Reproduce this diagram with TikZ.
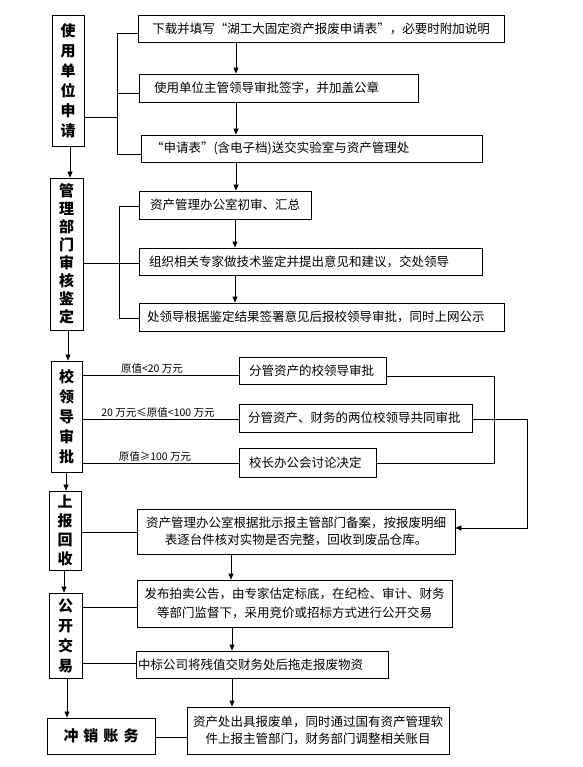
\documentclass[tikz,border=0pt]{standalone}
\usepackage{fontspec}
\setmainfont{Noto Sans CJK SC}
\usetikzlibrary{arrows.meta}
\begin{document}
\begin{tikzpicture}[x=1pt,y=-1pt,
  box/.style={draw, line width=0.8pt, inner ysep=0pt, inner xsep=10pt, font=\fontsize{12.5}{18}\selectfont},
  lbox/.style={draw, line width=0.9pt, inner sep=0pt, align=center},
  lfont/.style={font=\fontsize{15}{#1}\selectfont\bfseries},
  ln/.style={line width=0.8pt},
  arr/.style={line width=0.8pt, -{Triangle[length=6pt,width=5pt]}},
  lab/.style={font=\fontsize{10.5}{12}\selectfont, inner sep=1pt, anchor=south}]
\useasboundingbox (0,0) rectangle (582,767);

% left column
\node[lbox, lfont=20, minimum width=32, minimum height=131] (L1) at (68,80.5) {使\\用\\单\\位\\申\\请};
\node[lbox, lfont=18, minimum width=33, minimum height=152] (L2) at (66.5,254) {管\\理\\部\\门\\审\\核\\鉴\\定};
\node[lbox, lfont=20, minimum width=31, minimum height=111] (L3) at (66.5,416.5) {校\\领\\导\\审\\批};
\node[lbox, lfont=19, minimum width=32, minimum height=79] (L4) at (65,530.5) {上\\报\\回\\收};
\node[lbox, lfont=20, minimum width=33, minimum height=85] (L5) at (65.5,635.5) {公\\开\\交\\易};
\node[lbox, lfont=20, minimum width=108, minimum height=36] (L6) at (101,736) {冲\hspace{5pt}销\hspace{5pt}账\hspace{5pt}务};

% right boxes
\node[box, text width=346, align=center, minimum height=27] (R1) at (321,28.5) {下载并填写“湖工大固定资产报废申请表”，必要时附加说明};
\node[box, inner xsep=15pt, text width=249, align=left, minimum height=28] (R2) at (278.5,88) {使用单位主管领导审批签字，并加盖公章};
\node[box, text width=321, align=left, minimum height=27] (R3) at (311.5,148.5) {“申请表”(含电子档)送交实验室与资产管理处};
\node[box, text width=152, align=center, minimum height=28] (R4) at (225,205) {资产管理办公室初审、汇总};
\node[box, text width=323, align=left, minimum height=27] (R5) at (310.5,261.5) {组织相关专家做技术鉴定并提出意见和建议，交处领导};
\node[box, inner xsep=8pt, text width=349, align=left, minimum height=28] (R6) at (321.5,317) {处领导根据鉴定结果签署意见后报校领导审批，同时上网公示};
\node[box, text width=127, align=left, minimum height=27] (R7) at (312.5,370.5) {分管资产的校领导审批};
\node[box, inner xsep=9pt, text width=215, align=left, minimum height=28] (R8) at (355.5,418) {分管资产、财务的两位校领导共同审批};
\node[box, text width=117, align=left, minimum height=29] (R9) at (307.5,462.5) {校长办公会讨论决定};
\node[box, inner xsep=7pt, text width=304, align=center, minimum height=45, font=\fontsize{12.5}{17}\selectfont] (R10) at (296,531.5) {资产管理办公室根据批示报主管部门备案，按报废明细\\表逐台件核对实物是否完整，回收到废品仓库。};
\node[box, inner xsep=6pt, text width=303, align=center, minimum height=47, font=\fontsize{12.5}{19}\selectfont] (R11) at (294.5,603.5) {发布拍卖公告，由专家估定标底，在纪检、审计、财务\\等部门监督下，采用竞价或招标方式进行公开交易};
\node[box, inner xsep=2pt, text width=248, align=left, minimum height=27] (R12) at (262,664.5) {中标公司将残值交财务处后拖走报废物资};
\node[box, inner xsep=5pt, text width=252, align=center, minimum height=47, font=\fontsize{12.5}{17}\selectfont] (R13) at (318,730.5) {资产处出具报废单，同时通过国有资产管理软\\件上报主管部门，财务部门调整相关账目};

% left column arrows
\coordinate (a1) at (70,0);
\coordinate (a2) at (68,0);
\coordinate (a3) at (66,0);
\coordinate (a4) at (64,0);
\coordinate (a5) at (67,0);
\draw[arr] (L1.south -| a1) -- (L2.north -| a1);
\draw[arr] (L2.south -| a2) -- (L3.north -| a2);
\draw[arr] (L3.south -| a3) -- (L4.north -| a3);
\draw[arr] (L4.south -| a4) -- (L5.north -| a4);
\draw[arr] (L5.south -| a5) -- (L6.north -| a5);

% section 1
\coordinate (j1) at (117,117);
\coordinate (k1) at (117,33);
\coordinate (k2) at (117,93);
\coordinate (k3) at (117,154);
\draw[ln] (j1 -| L1.east) -- (j1);
\draw[ln] (k1) -- (k3);
\draw[ln] (k1) -- (k1 -| R1.west);
\draw[ln] (k2) -- (k2 -| R2.west);
\draw[ln] (k3) -- (k3 -| R3.west);
\coordinate (c1) at (236,0);
\draw[arr] (R1.south -| c1) -- (R2.north -| c1);
\draw[arr] (R2.south -| c1) -- (R3.north -| c1);
\draw[arr] (R3.south -| c1) -- (R4.north -| c1);

% section 2
\coordinate (j2) at (119,263);
\coordinate (m1) at (119,206);
\coordinate (m3) at (119,318);
\draw[ln] (j2 -| L2.east) -- (j2 -| R5.west);
\draw[ln] (m1) -- (m3);
\draw[ln] (m1) -- (m1 -| R4.west);
\draw[ln] (m3) -- (m3 -| R6.west);
\coordinate (c2) at (235,0);
\draw[arr] (R4.south -| c2) -- (R5.north -| c2);
\draw[arr] (R5.south -| c2) -- (R6.north -| c2);

% section 3
\coordinate (h1) at (0,375);
\coordinate (h2) at (0,419);
\coordinate (h3) at (0,463);
\draw[ln] (h1 -| L3.east) -- (h1 -| R7.west);
\draw[ln] (h2 -| L3.east) -- (h2 -| R8.west);
\draw[ln] (h3 -| L3.east) -- (h3 -| R9.west);
\node[lab] (t1) at (152,375) {原值<20 万元};
\node[lab] (t2) at (158,419) {20 万元≤原值<100 万元};
\node[lab] (t3) at (155,463) {原值≥100 万元};
\coordinate (v1) at (494,376);
\coordinate (v2) at (494,463);
\draw[ln] (v1 -| R7.east) -- (v1) -- (v2) -- (v2 -| R9.east);
\coordinate (w1) at (527,419);
\coordinate (w2) at (527,528);
\draw[arr] (w1 -| R8.east) -- (w1) -- (w2) -- (w2 -| R10.east);

% section 4
\coordinate (h4) at (0,532);
\coordinate (h5) at (0,607);
\coordinate (h6) at (0,663);
\coordinate (h7) at (0,737);
\draw[ln] (h4 -| L4.east) -- (h4 -| R10.west);
\draw[ln] (h5 -| L5.east) -- (h5 -| R11.west);
\draw[ln] (h6 -| L5.east) -- (h6 -| R12.west);
\draw[ln] (h7 -| L6.east) -- (h7 -| R13.west);
\coordinate (c3) at (231,0);
\coordinate (c4) at (232,0);
\draw[arr] (R10.south -| c3) -- (R11.north -| c3);
\draw[arr] (R11.south -| c4) -- (R12.north -| c4);
\draw[arr] (R12.south -| c4) -- (R13.north -| c4);
\end{tikzpicture}
\end{document}
